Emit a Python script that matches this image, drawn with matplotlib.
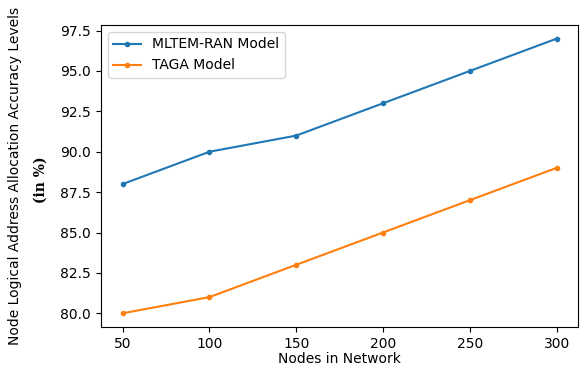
import matplotlib
matplotlib.use('Agg')
import matplotlib.pyplot as plt

nodes = [50, 100, 150, 200, 250, 300]
mltem_ran = [88, 90, 91, 93, 95, 97]
taga = [80, 81, 83, 85, 87, 89]

fig, ax = plt.subplots(figsize=(5.8, 3.67), dpi=100)
fig.subplots_adjust(left=0.174, right=0.997, top=0.932, bottom=0.109)

ax.plot(nodes, mltem_ran, marker='.', label='MLTEM-RAN Model')
ax.plot(nodes, taga, marker='.', label='TAGA Model')

ax.set_xlabel('Nodes in Network', labelpad=1)
# y label in two parts: plain first line, bold serif "(in %)" beneath it
fig.text(15 / 580, 0.52, 'Node Logical Address Allocation Accuracy Levels',
         rotation=90, ha='center', va='center', fontsize=10)
fig.text(41 / 580, 1 - 180 / 367, '(in %)', rotation=90, ha='center', va='center',
         fontsize=10, family='DejaVu Serif', fontweight='bold')
ax.legend(loc='upper left')

fig.savefig('out.png')
